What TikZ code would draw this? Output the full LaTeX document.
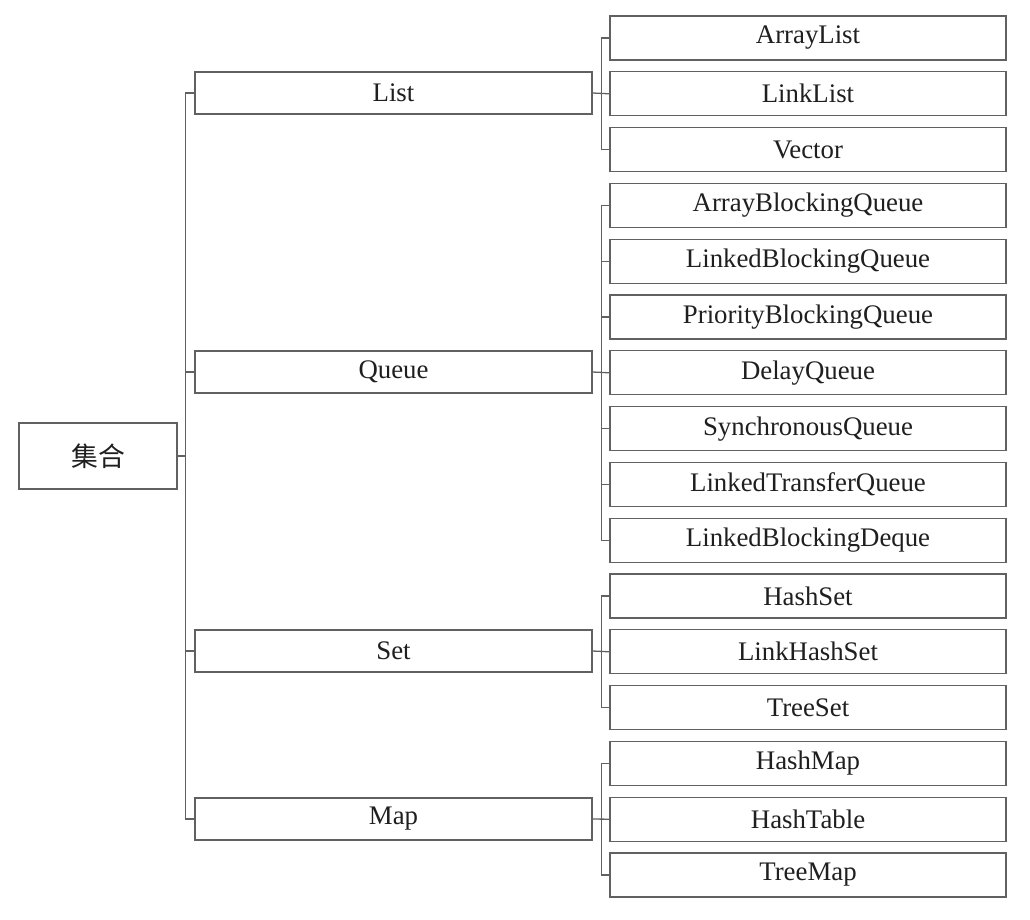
\documentclass[tikz,border=0pt]{standalone}
\usepackage{fontspec}
\setmainfont{Liberation Serif}
\newfontfamily\cjk{Noto Sans CJK SC}
\begin{document}
\begin{tikzpicture}[x=1pt,y=-1pt,
  box/.style={draw=black!62,line width=1.3pt,fill=white,inner sep=0pt,
    text=black!88,font=\fontsize{26.8}{30}\selectfont},
  rootbox/.style={box,minimum width=158pt,minimum height=66pt},
  midbox/.style={box,minimum width=397pt,minimum height=42pt},
  leafbox/.style={box,minimum width=396pt,minimum height=44pt},
  link/.style={draw=black!62,line width=1.3pt}]
\useasboundingbox (0,0) rectangle (1030,919);

% root
\node[rootbox] (root) at (98,456) {\cjk 集合};

% second level
\node[midbox] (list)  at (393.5,93)  {List};
\node[midbox] (queue) at (393.5,372) {Queue};
\node[midbox] (set)   at (393.5,651) {Set};
\node[midbox] (map)   at (393.5,819) {Map};

% leaves
\node[leafbox] (arraylist)  at (808,38)    {ArrayList};
\node[leafbox] (linklist)   at (808,93.8)  {LinkList};
\node[leafbox] (vector)     at (808,149.6) {Vector};
\node[leafbox] (abq)        at (808,205.4) {ArrayBlockingQueue};
\node[leafbox] (lbq)        at (808,261.2) {LinkedBlockingQueue};
\node[leafbox] (pbq)        at (808,317)   {PriorityBlockingQueue};
\node[leafbox] (dq)         at (808,372.8) {DelayQueue};
\node[leafbox] (sq)         at (808,428.6) {SynchronousQueue};
\node[leafbox] (ltq)        at (808,484.4) {LinkedTransferQueue};
\node[leafbox] (lbd)        at (808,540.2) {LinkedBlockingDeque};
\node[leafbox] (hashset)    at (808,596)   {HashSet};
\node[leafbox] (linkhashset)at (808,651.8) {LinkHashSet};
\node[leafbox] (treeset)    at (808,707.6) {TreeSet};
\node[leafbox] (hashmap)    at (808,763.4) {HashMap};
\node[leafbox] (hashtable)  at (808,819.2) {HashTable};
\node[leafbox] (treemap)    at (808,875)   {TreeMap};

% trunk from the root to the second level
\path (root.east) ++(8,0) coordinate (tr);
\draw[link] (root.east) -- (tr);
\draw[link] (list.west) -- (list.west -| tr) -- (map.west -| tr) -- (map.west);
\draw[link] (queue.west) -- (queue.west -| tr);
\draw[link] (set.west) -- (set.west -| tr);

% brackets from each group to its leaves
\path (list.east) ++(9,0) coordinate (br);
\draw[link] (arraylist.west) -- (arraylist.west -| br) -- (vector.west -| br) -- (vector.west);
\draw[link] (list.east) -- (linklist.west);

\draw[link] (abq.west) -- (abq.west -| br) -- (lbd.west -| br) -- (lbd.west);
\foreach \n in {lbq,pbq,sq,ltq} \draw[link] (\n.west) -- (\n.west -| br);
\draw[link] (queue.east) -- (dq.west);

\draw[link] (hashset.west) -- (hashset.west -| br) -- (treeset.west -| br) -- (treeset.west);
\draw[link] (set.east) -- (linkhashset.west);

\draw[link] (hashmap.west) -- (hashmap.west -| br) -- (treemap.west -| br) -- (treemap.west);
\draw[link] (map.east) -- (hashtable.west);
\end{tikzpicture}
\end{document}
